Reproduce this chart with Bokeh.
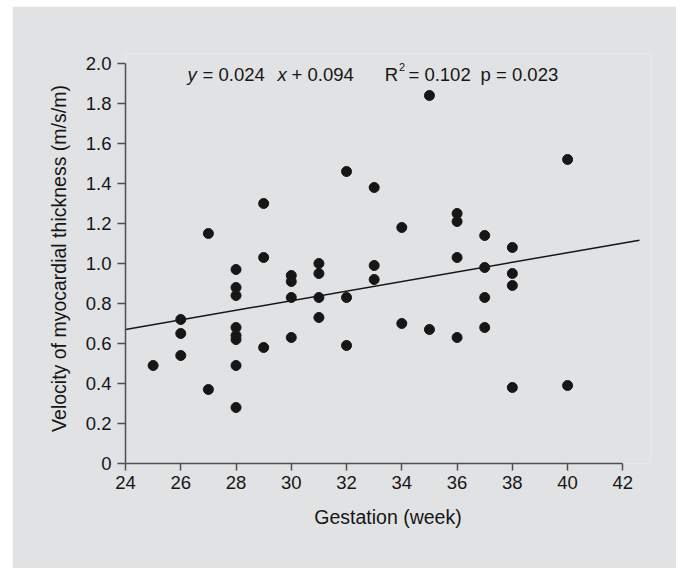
from bokeh.plotting import figure
from bokeh.models import Range1d, FixedTicker, Label, Spacer, NumeralTickFormatter
from bokeh.layouts import row, column
from bokeh.embed import file_html
from bokeh.resources import INLINE

# Gestational age (weeks) and velocity of myocardial thickness (m/s/m)
gestation = [25,
             26, 26, 26,
             27, 27,
             28, 28, 28, 28, 28, 28, 28, 28,
             29, 29, 29,
             30, 30, 30, 30,
             31, 31, 31, 31,
             32, 32, 32,
             33, 33, 33,
             34, 34,
             35, 35,
             36, 36, 36, 36,
             37, 37, 37, 37,
             38, 38, 38, 38,
             40, 40]
velocity = [0.49,
            0.72, 0.65, 0.54,
            1.15, 0.37,
            0.97, 0.88, 0.84, 0.68, 0.64, 0.62, 0.49, 0.28,
            1.30, 1.03, 0.58,
            0.94, 0.91, 0.83, 0.63,
            1.00, 0.95, 0.83, 0.73,
            1.46, 0.83, 0.59,
            1.38, 0.99, 0.92,
            1.18, 0.70,
            1.84, 0.67,
            1.25, 1.21, 1.03, 0.63,
            1.14, 0.98, 0.83, 0.68,
            1.08, 0.95, 0.89, 0.38,
            1.52, 0.39]

# Linear fit reported on the chart
slope = 0.024
intercept = 0.094
fit_x = [24, 42.6]

x_ticks = [24, 26, 28, 30, 32, 34, 36, 38, 40, 42]
y_ticks = [0, 0.2, 0.4, 0.6, 0.8, 1.0, 1.2, 1.4, 1.6, 1.8, 2.0]

BG = "#e1e2e4"
INK = "#161616"
AXIS = "#4f4f4f"
FONT = "Liberation Sans"

p = figure(
    frame_width=525, frame_height=410,
    width=664, height=562,
    min_border_left=113, min_border_right=26,
    min_border_top=47, min_border_bottom=105,
    x_range=Range1d(24, 43), y_range=Range1d(0, 2.05),
    output_backend="svg", toolbar_location=None,
    background_fill_color=BG, border_fill_color=BG,
)
p.outline_line_color = None
p.grid.visible = False

# regression line
fit_y = [slope * v + intercept for v in fit_x]
p.line(fit_x, fit_y, line_color=INK, line_width=1.5)

# observations
p.scatter(gestation, velocity, size=10, fill_color=INK, line_color=INK)

# axes
for ax in (p.xaxis[0], p.yaxis[0]):
    ax.axis_line_color = AXIS
    ax.axis_line_width = 1.5
    ax.major_tick_line_color = AXIS
    ax.major_tick_line_width = 1.5
    ax.major_tick_in = 0
    ax.minor_tick_line_color = None
    ax.major_label_text_font = FONT
    ax.major_label_text_font_size = "18.5px"
    ax.major_label_text_color = INK
    ax.axis_label_text_font = FONT
    ax.axis_label_text_font_size = "19.5px"
    ax.axis_label_text_font_style = "normal"
    ax.axis_label_text_color = INK

xa = p.xaxis[0]
xa.ticker = FixedTicker(ticks=x_ticks)
xa.bounds = (24, 42)
xa.major_tick_out = 7
xa.major_label_standoff = 5
xa.axis_label = "Gestation (week)"
xa.axis_label_standoff = 14

ya = p.yaxis[0]
ya.ticker = FixedTicker(ticks=y_ticks)
ya.bounds = (0, 2.0)
ya.formatter = NumeralTickFormatter(format="0.0")
ya.major_label_overrides = {0: "0"}
ya.major_tick_out = 8
ya.major_label_standoff = 6
ya.axis_label = "Velocity of myocardial thickness (m/s/m)"
ya.axis_label_standoff = 13

# fit equation and statistics
eq_y = 1.946
eq_parts = [
    (26.245, "y", "italic"),
    (26.79, "= 0.024", "normal"),
    (29.505, "x", "italic"),
    (30.01, "+ 0.094", "normal"),
    (33.38, "R", "normal"),
    (34.24, "= 0.102", "normal"),
    (36.85, "p = 0.023", "normal"),
]
for xpos, txt, style in eq_parts:
    p.add_layout(Label(x=xpos, y=eq_y, text=txt, text_font=FONT,
                       text_font_style=style, text_font_size="18.5px",
                       text_color=INK, text_baseline="alphabetic",
                       text_align="left"))
p.add_layout(Label(x=33.9, y=eq_y + 0.035, text="2", text_font=FONT,
                   text_font_size="11px", text_color=INK,
                   text_baseline="alphabetic", text_align="left"))

layout = row(Spacer(width=12), column(Spacer(height=6), p))
open("out.html", "w").write(file_html(layout, INLINE))
